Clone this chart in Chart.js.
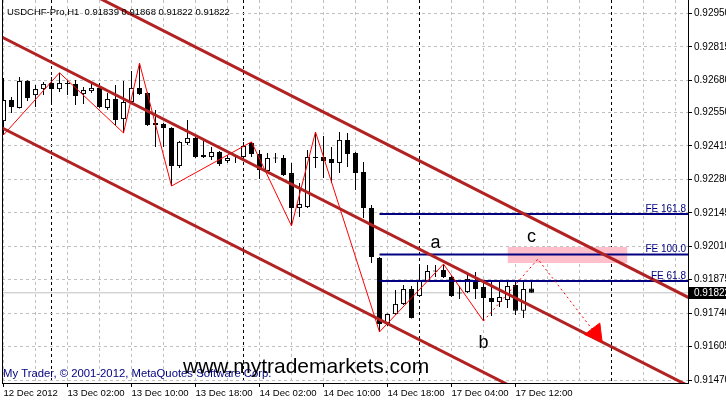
<!DOCTYPE html>
<html>
<head>
<meta charset="utf-8">
<title>USDCHF-Pro,H1</title>
<script src="https://cdn.jsdelivr.net/npm/chart.js@4.4.1/dist/chart.umd.min.js"></script>
<style>
  html, body { margin: 0; padding: 0; background: #fff; }
  canvas { display: block; }
</style>
</head>
<body>
<canvas id="chart" width="726" height="401"></canvas>
<script>
// H1 bars, 12 Dec 18:00 .. 17 Dec 14:00 (bar index = hour slot on the x axis)
const opens = [
  0.92515, 0.92600, 0.92568, 0.92677, 0.92620, 0.92644, 0.92669, 0.92644, 0.92669, 0.92665,
  0.92624, 0.92636, 0.92649, 0.92568, 0.92604, 0.92523, 0.92592, 0.92649, 0.92628, 0.92507,
  0.92503, 0.92487, 0.92334, 0.92427, 0.92447, 0.92378, 0.92370, 0.92390, 0.92354, 0.92374,
  0.92370, 0.92427, 0.92382, 0.92314, 0.92366, 0.92366, 0.92305, 0.92164, 0.92168, 0.92370,
  0.92370, 0.92362, 0.92346, 0.92439, 0.92386, 0.92310, 0.92164, 0.91962, 0.91700, 0.91736,
  0.91777, 0.91837, 0.91809, 0.91870, 0.91910, 0.91914, 0.91886, 0.91821, 0.91825, 0.91870,
  0.91845, 0.91801, 0.91785, 0.91793, 0.91853, 0.91749, 0.91839
];
const highs = [
  0.92689, 0.92612, 0.92693, 0.92680, 0.92661, 0.92673, 0.92693, 0.92710, 0.92681, 0.92681,
  0.92653, 0.92673, 0.92669, 0.92628, 0.92661, 0.92677, 0.92717, 0.92749, 0.92632, 0.92560,
  0.92507, 0.92490, 0.92435, 0.92519, 0.92451, 0.92439, 0.92410, 0.92394, 0.92378, 0.92378,
  0.92431, 0.92431, 0.92398, 0.92386, 0.92386, 0.92378, 0.92346, 0.92265, 0.92398, 0.92471,
  0.92455, 0.92410, 0.92471, 0.92467, 0.92390, 0.92350, 0.92176, 0.91966, 0.91738, 0.91833,
  0.91853, 0.91849, 0.91926, 0.91934, 0.91934, 0.91938, 0.91894, 0.91849, 0.91902, 0.91906,
  0.91866, 0.91866, 0.91866, 0.91866, 0.91866, 0.91866, 0.91868
];
const lows = [
  0.92459, 0.92548, 0.92566, 0.92596, 0.92572, 0.92620, 0.92588, 0.92632, 0.92620, 0.92580,
  0.92584, 0.92628, 0.92568, 0.92560, 0.92499, 0.92467, 0.92588, 0.92620, 0.92495, 0.92410,
  0.92410, 0.92253, 0.92326, 0.92418, 0.92366, 0.92366, 0.92358, 0.92334, 0.92346, 0.92346,
  0.92366, 0.92370, 0.92281, 0.92310, 0.92346, 0.92293, 0.92092, 0.92128, 0.92164, 0.92326,
  0.92285, 0.92265, 0.92305, 0.92330, 0.92237, 0.92124, 0.91942, 0.91664, 0.91688, 0.91732,
  0.91773, 0.91718, 0.91805, 0.91866, 0.91886, 0.91882, 0.91805, 0.91797, 0.91821, 0.91797,
  0.91708, 0.91728, 0.91765, 0.91761, 0.91732, 0.91720, 0.91822
];
const closes = [
  0.92600, 0.92572, 0.92677, 0.92608, 0.92644, 0.92665, 0.92644, 0.92669, 0.92665, 0.92616,
  0.92640, 0.92649, 0.92572, 0.92604, 0.92519, 0.92592, 0.92649, 0.92624, 0.92499, 0.92499,
  0.92487, 0.92334, 0.92431, 0.92447, 0.92370, 0.92370, 0.92390, 0.92342, 0.92366, 0.92372,
  0.92414, 0.92382, 0.92318, 0.92366, 0.92364, 0.92297, 0.92164, 0.92180, 0.92370, 0.92366,
  0.92354, 0.92346, 0.92439, 0.92382, 0.92305, 0.92164, 0.91966, 0.91696, 0.91736, 0.91777,
  0.91837, 0.91720, 0.91870, 0.91910, 0.91908, 0.91886, 0.91809, 0.91819, 0.91878, 0.91837,
  0.91801, 0.91785, 0.91805, 0.91849, 0.91749, 0.91837, 0.91822
];

const xTickLabels = ['12 Dec 2012', '13 Dec 02:00', '13 Dec 10:00', '13 Dec 18:00', '14 Dec 02:00',
  '14 Dec 10:00', '14 Dec 18:00', '17 Dec 04:00', '17 Dec 12:00'];
const yTickLabels = ['0.91470', '0.91605', '0.91740', '0.91875', '0.92010', '0.92145',
  '0.92280', '0.92415', '0.92550', '0.92680', '0.92815', '0.92950'];
const daySeparators = [6, 30, 52, 76];

// drawn objects (time in bar index, value in price)
const channelX = [-1, 86];
const channelUpper = [0.93224, 0.91797];
const channelMiddle = [0.92867, 0.91440];
const channelLower = [0.92501, 0.91075];

const zigzagX = [0, 7, 15, 17, 21, 31, 36, 39, 47, 55, 60];
const zigzagY = [0.92459, 0.92710, 0.92467, 0.92749, 0.92253, 0.92431, 0.92092, 0.92471, 0.91664, 0.91938, 0.91708];
const projectionX = [60, 66.8, 74.8];
const projectionY = [0.91708, 0.91958, 0.91624];
const arrowX = 74.0;
const arrowY = 0.91659;

const feNames = ['FE 161.8', 'FE 100.0', 'FE 61.8'];
const feLevels = [0.92140, 0.91977, 0.91870];
const feStart = 47;

const zoneX = [63, 78];
const zoneTop = 0.92007;
const zoneBottom = 0.91942;

const waveNames = ['a', 'b', 'c'];
const waveX = [54, 60, 66];
const waveY = [0.92003, 0.91599, 0.92027];

const last = opens.length - 1;
const lastPrice = closes[last];
const titleText = 'USDCHF-Pro,H1  ' + [opens[last], highs[last], lows[last], closes[last]].map(v => v.toFixed(5)).join(' ');

const gridBars = [];
for (let v = 0; v <= 84; v += 4) gridBars.push(v);
daySeparators.forEach(v => { if (!gridBars.includes(v)) gridBars.push(v); });
gridBars.sort((a, b) => a - b);

const FONT = '"Liberation Sans", Arial, sans-serif';
Chart.defaults.font.family = FONT;
Chart.defaults.font.size = 10;
Chart.defaults.color = '#000';

const pts = (xs, ys) => xs.map((x, i) => ({ x: x, y: ys[i] }));
const lineDs = (data, color, width, order, extra) => Object.assign({
  type: 'line', data: data, borderColor: color, borderWidth: width,
  pointRadius: 0, fill: false, tension: 0, order: order
}, extra || {});

const chartText = {
  id: 'chartText',
  afterDraw(chart) {
    const { ctx, chartArea: a, scales: { x, y } } = chart;
    ctx.save();
    ctx.strokeStyle = '#000';
    ctx.lineWidth = 1;
    ctx.beginPath();
    ctx.moveTo(a.left + 0.5, a.top);
    ctx.lineTo(a.left + 0.5, a.bottom);
    ctx.stroke();

    ctx.textBaseline = 'alphabetic';
    ctx.font = '9.5px ' + FONT;
    ctx.fillStyle = '#000';
    ctx.textAlign = 'left';
    ctx.fillText(titleText, 7, 15);

    ctx.font = '10px ' + FONT;
    ctx.fillStyle = '#000080';
    ctx.textAlign = 'right';
    feLevels.forEach((p, i) => {
      ctx.fillText(feNames[i], a.right - 2, Math.round(y.getPixelForValue(p)) - 2);
    });

    ctx.font = '11.3px ' + FONT;
    ctx.textAlign = 'left';
    ctx.fillText('My Trader, \u00a9 2001-2012, MetaQuotes Software Corp.', 3, 377);

    ctx.fillStyle = '#000';
    ctx.font = '21px ' + FONT;
    ctx.fillText('www.mytrademarkets.com', 183, 373);

    ctx.font = '18px ' + FONT;
    ctx.textAlign = 'center';
    waveNames.forEach((t, i) => {
      ctx.fillText(t, x.getPixelForValue(waveX[i]), y.getPixelForValue(waveY[i]));
    });

    // current price tag on the price axis
    const py = Math.round(y.getPixelForValue(lastPrice));
    ctx.fillStyle = '#000';
    ctx.fillRect(a.right + 1, py - 6, chart.width - a.right - 1, 12);
    ctx.fillStyle = '#fff';
    ctx.font = '10px ' + FONT;
    ctx.textAlign = 'left';
    ctx.textBaseline = 'middle';
    ctx.fillText(lastPrice.toFixed(5), a.right + 6, py);
    ctx.restore();
  }
};

const bodyData = opens.map((o, i) => ({ x: i, y: [o, closes[i]] }));
const wickData = opens.map((o, i) => ({ x: i, y: [lows[i], highs[i]] }));

new Chart(document.getElementById('chart'), {
  type: 'bar',
  data: {
    datasets: [
      lineDs([{ x: arrowX, y: arrowY }], '#ff0000', 1, 1, {
        showLine: false, pointStyle: 'triangle', pointRadius: 11, pointRotation: 143,
        pointBackgroundColor: '#ff0000', pointBorderColor: '#ff0000'
      }),
      lineDs(pts(projectionX, projectionY), '#ff0000', 1, 2, { borderDash: [2, 3] }),
      lineDs(pts(channelX, channelUpper), '#b22222', 3, 3),
      lineDs(pts(channelX, channelMiddle), '#b22222', 3, 3),
      lineDs(pts(channelX, channelLower), '#b22222', 3, 3),
      lineDs(pts(zigzagX, zigzagY), '#ff0000', 1, 4),
      ...feLevels.map(p => lineDs([{ x: feStart, y: p }, { x: 90, y: p }], '#000080', 2, 5)),
      {
        type: 'bar', data: bodyData, order: 6, grouped: false,
        backgroundColor: opens.map((o, i) => closes[i] >= o ? '#ffffff' : '#000000'),
        borderColor: '#000', borderWidth: 1, borderSkipped: false,
        barThickness: 5, minBarLength: 1, inflateAmount: 0
      },
      {
        type: 'bar', data: wickData, order: 7, grouped: false,
        backgroundColor: '#000', borderWidth: 0, barThickness: 1, inflateAmount: 0
      },
      lineDs([{ x: -1, y: lastPrice }, { x: 90, y: lastPrice }], '#c0c0c0', 1, 8),
      lineDs(pts(zoneX, [zoneTop, zoneTop]), 'rgba(0,0,0,0)', 0, 9, { fill: '+1', backgroundColor: '#ffc0cb' }),
      lineDs(pts(zoneX, [zoneBottom, zoneBottom]), 'rgba(0,0,0,0)', 0, 10)
    ]
  },
  options: {
    responsive: false,
    animation: false,
    devicePixelRatio: 1,
    events: [],
    layout: { autoPadding: false, padding: { left: 2, top: 0, right: 0, bottom: 0 } },
    plugins: { legend: { display: false }, tooltip: { enabled: false } },
    scales: {
      x: {
        type: 'linear', position: 'bottom', min: -0.1875, max: 85.5625, offset: false,
        afterBuildTicks: s => { s.ticks = gridBars.map(v => ({ value: v })); },
        afterFit: s => { s.height = 18; s.paddingLeft = 0; s.paddingRight = 0; },
        ticks: {
          autoSkip: false, maxRotation: 0, minRotation: 0, align: 'start', padding: 1,
          font: { size: 9.6 },
          callback: v => xTickLabels[v / 8] || ''
        },
        grid: {
          offset: false, tickLength: 4,
          color: c => (c.tick && daySeparators.includes(c.tick.value)) ? '#000' : '#c0c0c0',
          tickColor: c => (c.tick && xTickLabels[c.tick.value / 8]) ? '#000' : 'rgba(0,0,0,0)'
        },
        border: { color: '#000', dash: [3, 3] }
      },
      y: {
        type: 'linear', position: 'right', min: 0.914579, max: 0.930037,
        afterBuildTicks: s => { s.ticks = yTickLabels.map(t => ({ value: Number(t) })); },
        afterFit: s => { s.width = 38; s.paddingTop = 0; s.paddingBottom = 0; },
        ticks: { autoSkip: false, padding: 2, callback: (v, i) => yTickLabels[i] },
        grid: { color: '#c0c0c0', tickColor: '#000', tickLength: 4 },
        border: { color: '#000', dash: [3, 3] }
      }
    }
  },
  plugins: [chartText]
});
</script>
</body>
</html>
